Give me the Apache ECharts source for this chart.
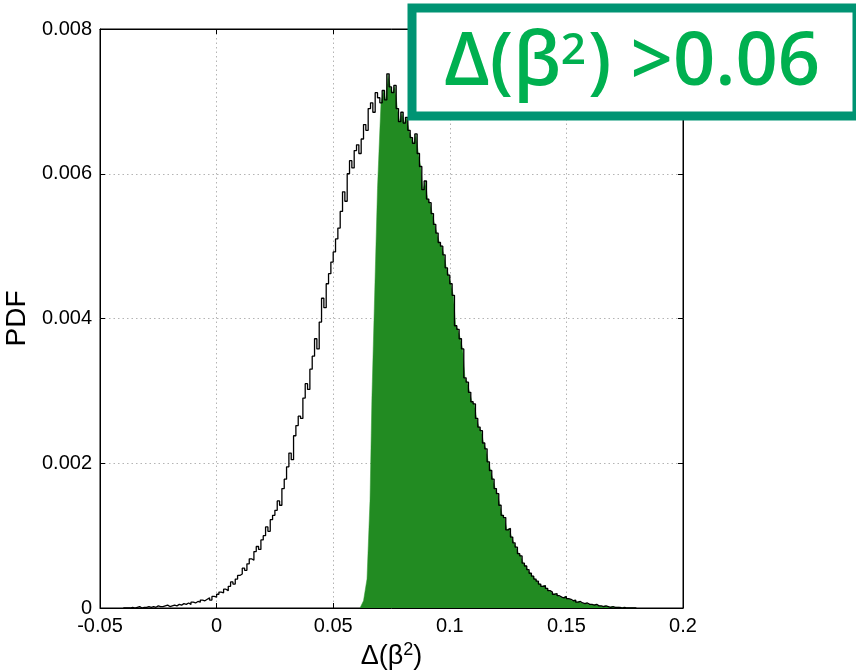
<!DOCTYPE html>
<html>
<head>
<meta charset="utf-8">
<script src="https://cdn.jsdelivr.net/npm/echarts@6/dist/echarts.min.js"></script>
<style>html,body{margin:0;padding:0;background:#fff}#c{width:856px;height:671px}</style>
</head>
<body>
<div id="c"></div>
<script>
// Histogram bins: left edge of first bin and bin width
var binStart = -0.040;
var binWidth = 0.001;
// PDF values per bin (from -0.040 to 0.179)
var pdf = [
0, 0, 0, 0.00001, 0, 0.00001, 0.00002, 0, 0.00001, 0.00001,
0.00002, 0.00001, 0.00002, 0.00001, 0.00003, 0.00002, 0.00002, 0.00003, 0.00004, 0.00002,
0.00003, 0.00004, 0.00003, 0.00005, 0.00004, 0.00006, 0.00005, 0.00007, 0.00005, 0.00008,
0.00007, 0.00009, 0.00008, 0.00011, 0.00010, 0.00012, 0.00014, 0.00011, 0.00016, 0.00015,
0.00019, 0.00022, 0.00021, 0.00026, 0.00024, 0.00030, 0.00036, 0.00033, 0.00040, 0.00045,
0.00047, 0.00055, 0.00052, 0.00061, 0.00068, 0.00066, 0.00078, 0.00085, 0.00081, 0.00094,
0.00100, 0.00112, 0.00106, 0.00122, 0.00128, 0.00135, 0.00148, 0.00142, 0.00165, 0.00178,
0.00195, 0.00214, 0.00205, 0.00238, 0.00252, 0.00265, 0.00262, 0.00290, 0.00310, 0.00302,
0.00330, 0.00348, 0.00372, 0.00358, 0.00395, 0.00428, 0.00415, 0.00448, 0.00462, 0.00478,
0.00492, 0.00510, 0.00525, 0.00548, 0.00575, 0.00562, 0.00600, 0.00618, 0.00608, 0.00632,
0.00640, 0.00628, 0.00648, 0.00668, 0.00660, 0.00690, 0.00698, 0.00685, 0.00712, 0.00705,
0.00698, 0.00715, 0.00702, 0.00738, 0.00720, 0.00712, 0.00722, 0.00690, 0.00672, 0.00685,
0.00670, 0.00678, 0.00660, 0.00650, 0.00642, 0.00655, 0.00628, 0.00610, 0.00578, 0.00590,
0.00565, 0.00560, 0.00545, 0.00530, 0.00518, 0.00505, 0.00500, 0.00488, 0.00470, 0.00460,
0.00448, 0.00432, 0.00390, 0.00385, 0.00372, 0.00358, 0.00318, 0.00312, 0.00298, 0.00285,
0.00282, 0.00262, 0.00250, 0.00245, 0.00228, 0.00220, 0.00202, 0.00190, 0.00178, 0.00165,
0.00158, 0.00142, 0.00128, 0.00125, 0.00108, 0.00110, 0.00098, 0.00090, 0.00084, 0.00075,
0.00072, 0.00062, 0.00058, 0.00053, 0.00048, 0.00044, 0.00040, 0.00037, 0.00033, 0.00030,
0.00031, 0.00027, 0.00024, 0.00022, 0.00019, 0.00020, 0.00017, 0.00015, 0.00014, 0.00016,
0.00013, 0.00012, 0.00010, 0.00011, 0.00008, 0.00009, 0.00007, 0.00006, 0.00007, 0.00005,
0.00005, 0.00004, 0.00005, 0.00003, 0.00003, 0.00002, 0.00003, 0.00002, 0.00001, 0.00002,
0.00001, 0.00001, 0.00001, 0, 0.00001, 0, 0, 0, 0, 0
];
// Rising left edge of the selected (green) region
var rampX = [0.0615, 0.0630, 0.0645, 0.0658, 0.0666, 0.0680, 0.0690, 0.0700];
var rampY = [0, 0.0001, 0.0004, 0.0015, 0.0029, 0.0046, 0.0058, 0.0066];
var cutValue = 0.070;
// Axis ticks
var xTicks = [-0.05, 0, 0.05, 0.1, 0.15, 0.2];
var yTicks = [0, 0.002, 0.004, 0.006, 0.008];

var stepData = [];
for (var i = 0; i < pdf.length; i++) stepData.push([binStart + i * binWidth, pdf[i]]);
stepData.push([binStart + pdf.length * binWidth, pdf[pdf.length - 1]]);

var greenData = [];
for (var k = 0; k < rampX.length; k++) greenData.push([rampX[k], rampY[k]]);
for (var j = 0; j < pdf.length; j++) {
  var c = binStart + (j + 0.5) * binWidth;
  if (c > cutValue) greenData.push([c, pdf[j]]);
}

var font = 'Liberation Sans, Arial, sans-serif';
var chart = echarts.init(document.getElementById('c'), null, {renderer: 'canvas'});
var splitStyle = {show: true, lineStyle: {color: '#b4b4b4', type: [1.5, 3], width: 1}};
chart.setOption({
  animation: false,
  backgroundColor: '#fff',
  grid: {left: 100, right: 173, top: 29, bottom: 63, show: true, borderColor: '#000', borderWidth: 1,
         containLabel: false, outerBoundsMode: 'none'},
  xAxis: [{
    type: 'value', min: xTicks[0], max: xTicks[xTicks.length - 1], interval: 0.05,
    axisLine: {show: true, onZero: false, lineStyle: {color: '#000'}},
    axisTick: {show: true, inside: true, length: 5, lineStyle: {color: '#000'}},
    axisLabel: {color: '#000', fontFamily: font, fontSize: 20, margin: 8},
    splitLine: splitStyle,
    name: '{n|Δ(β}{s|2}{n|)}', nameLocation: 'middle', nameGap: 31,
    nameTextStyle: {rich: {n: {fontFamily: font, fontSize: 27, color: '#000'}, s: {fontFamily: font, fontSize: 18, color: '#000', padding: [0, 0, 14, 0]}}}
  }, {
    type: 'value', position: 'top', min: xTicks[0], max: xTicks[xTicks.length - 1], interval: 0.05,
    axisLine: {show: true, onZero: false, lineStyle: {color: '#000'}},
    axisTick: {show: true, inside: true, length: 5, lineStyle: {color: '#000'}},
    axisLabel: {show: false}, splitLine: {show: false}
  }],
  yAxis: [{
    type: 'value', min: yTicks[0], max: yTicks[yTicks.length - 1], interval: 0.002,
    axisLine: {show: true, onZero: false, lineStyle: {color: '#000'}},
    axisTick: {show: true, inside: true, length: 5, lineStyle: {color: '#000'}},
    axisLabel: {color: '#000', fontFamily: font, fontSize: 20, margin: 8},
    splitLine: splitStyle,
    name: 'PDF', nameLocation: 'middle', nameGap: 68,
    nameTextStyle: {fontFamily: font, fontSize: 28, color: '#000'}
  }, {
    type: 'value', position: 'right', min: yTicks[0], max: yTicks[yTicks.length - 1], interval: 0.002,
    axisLine: {show: true, onZero: false, lineStyle: {color: '#000'}},
    axisTick: {show: true, inside: true, length: 5, lineStyle: {color: '#000'}},
    axisLabel: {show: false}, splitLine: {show: false}
  }],
  series: [{
    type: 'line', data: greenData, showSymbol: false, symbol: 'none', z: 2,
    lineStyle: {width: 0.5, color: '#2e9a2e'},
    areaStyle: {color: '#228b22', opacity: 1}
  }, {
    type: 'line', step: 'end', data: stepData, showSymbol: false, symbol: 'none', z: 3,
    lineStyle: {width: 1.3, color: '#000'}
  }],
  graphic: [{
    type: 'rect', z: 100,
    shape: {x: 412, y: 8, width: 445, height: 108},
    style: {fill: '#fff', stroke: '#009473', lineWidth: 9}
  }, {
    type: 'text', z: 101, x: 632, y: 64,
    style: {
      text: '{a|Δ(β}{s|2}{a|) >0.06}',
      align: 'center', verticalAlign: 'middle',
      rich: {
        a: {fontFamily: 'Open Sans, DejaVu Sans, sans-serif', fontSize: 74, fill: '#00b050', fontWeight: 600},
        s: {fontFamily: 'Open Sans, DejaVu Sans, sans-serif', fontSize: 44, fill: '#00b050', fontWeight: 600, padding: [0, 2, 26, 0]}
      }
    }
  }]
});
</script>
</body>
</html>
